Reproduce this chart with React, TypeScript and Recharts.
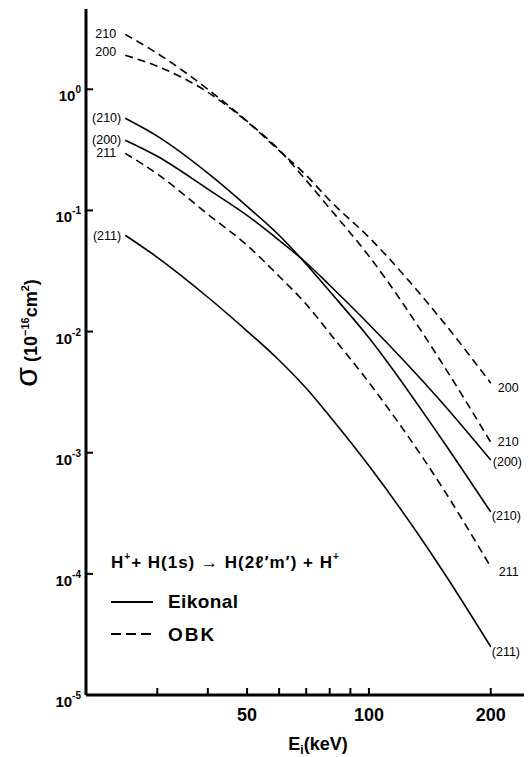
import React from 'react';
import { LineChart, Line, XAxis, YAxis } from 'recharts';

// Projectile energy E_i (keV)
const energies = [25, 30, 40, 50, 60, 70, 80, 100, 150, 200];
// OBK (dashed) cross sections, 10^-16 cm^2
const obk210 = [2.84, 1.98, 1.0, 0.545, 0.316, 0.177, 0.104, 0.042, 0.0058, 0.00122];
const obk200 = [1.91, 1.55, 0.945, 0.54, 0.312, 0.195, 0.121, 0.06, 0.0129, 0.00375];
const obk211 = [0.296, 0.2, 0.093, 0.0516, 0.0286, 0.0168, 0.0097, 0.0038, 0.00055, 0.000114];
// Eikonal (solid) cross sections
const eik210 = [0.576, 0.41, 0.203, 0.108, 0.0624, 0.036, 0.0215, 0.0089, 0.00135, 0.000324];
const eik200 = [0.38, 0.28, 0.15, 0.091, 0.0567, 0.037, 0.0241, 0.0115, 0.0027, 0.00087];
const eik211 = [0.0624, 0.041, 0.0192, 0.0101, 0.0058, 0.0034, 0.002, 0.00078, 0.000114, 0.000025];

const xTicks = [30, 40, 50, 60, 70, 80, 90, 100, 200];
const xTickLabels = [50, 100, 200];
const yTicks = [1e-5, 1e-4, 1e-3, 1e-2, 1e-1, 1];
const yExponents = ['-5', '-4', '-3', '-2', '-1', '0'];

const data = energies.map((e, i) => ({
  e,
  obk210: obk210[i],
  obk200: obk200[i],
  obk211: obk211[i],
  eik210: eik210[i],
  eik200: eik200[i],
  eik211: eik211[i],
}));

const FONT = '"Liberation Sans", Arial, Helvetica, sans-serif';

const makeLabel = (
  startText: string,
  endText: string,
  sdx: number,
  sdy: number,
  edx: number,
  edy: number
) => (props: any) => {
  const { x, y, index } = props;
  if (index === 0) {
    return (
      <text x={x + sdx} y={y + sdy + 4} textAnchor="end" fontSize={12.5} fontFamily={FONT} fill="#000">
        {startText}
      </text>
    );
  }
  if (index === energies.length - 1) {
    return (
      <text x={x + edx} y={y + edy + 4} textAnchor="start" fontSize={12.5} fontFamily={FONT} fill="#000">
        {endText}
      </text>
    );
  }
  return null;
};

const YTick = (props: any) => {
  const { x, y, payload } = props;
  const idx = yTicks.findIndex((t) => Math.abs(Math.log10(t) - Math.log10(payload.value)) < 1e-6);
  const exp = idx >= 0 ? yExponents[idx] : '';
  return (
    <text x={x} y={y + 12} textAnchor="end" fontFamily={FONT} fontWeight="bold" fill="#000">
      <tspan fontSize={15}>10</tspan>
      <tspan fontSize={10} dy={-8}>{exp}</tspan>
    </text>
  );
};

const XTick = (props: any) => {
  const { x, y, payload } = props;
  if (!xTickLabels.includes(payload.value)) return <g />;
  return (
    <text x={x} y={y + 19} textAnchor="middle" fontFamily={FONT} fontWeight="bold" fontSize={18} fill="#000">
      {payload.value}
    </text>
  );
};

const Overlay = () => (
  <svg
    width={532}
    height={757}
    style={{ position: 'absolute', left: 0, top: 0, pointerEvents: 'none' }}
  >
    {/* Y axis title */}
    <text
      x={37}
      y={333}
      transform="rotate(-90 37 333)"
      textAnchor="middle"
      fontFamily={FONT}
      fontWeight="bold"
      fill="#000"
    >
      <tspan fontSize={32} fontWeight="normal">σ</tspan>
      <tspan fontSize={18}> (10</tspan>
      <tspan fontSize={11} dy={-8}>−16</tspan>
      <tspan fontSize={18} dy={8}>cm</tspan>
      <tspan fontSize={11} dy={-8}>2</tspan>
      <tspan fontSize={18} dy={8}>)</tspan>
    </text>
    {/* X axis title */}
    <text x={318} y={750} textAnchor="middle" fontFamily={FONT} fontWeight="bold" fill="#000">
      <tspan fontSize={18}>E</tspan>
      <tspan fontSize={12} dy={4}>i</tspan>
      <tspan fontSize={18} dy={-4}>(keV)</tspan>
    </text>
    {/* Legend */}
    <text x={111} y={568} fontFamily={FONT} fontWeight="bold" fill="#000" letterSpacing={1}>
      <tspan fontSize={17}>H</tspan>
      <tspan fontSize={10} dy={-8}>+</tspan>
      <tspan fontSize={17} dy={8}>+ H(1s) → H(2ℓ′m′) + H</tspan>
      <tspan fontSize={10} dy={-8}>+</tspan>
    </text>
    <line x1={111} y1={602} x2={153} y2={602} stroke="#000" strokeWidth={1.8} />
    <text x={168} y={608} fontFamily={FONT} fontWeight="bold" fontSize={19} fill="#000" letterSpacing={0.4}>
      Eikonal
    </text>
    <line x1={111} y1={634} x2={153} y2={634} stroke="#000" strokeWidth={1.8} strokeDasharray="10 5" />
    <text x={168} y={641} fontFamily={FONT} fontWeight="bold" fontSize={19} fill="#000" letterSpacing={2}>
      OBK
    </text>
  </svg>
);

export default function App() {
  return (
    <div style={{ position: 'relative', width: 532, height: 757, margin: '-8px 0 0 -8px', background: '#fff' }}>
      <LineChart
        width={532}
        height={757}
        data={data}
        margin={{ top: 9, right: 2, bottom: 22, left: 26 }}
      >
        <XAxis
          xAxisId="b"
          dataKey="e"
          type="number"
          scale="log"
          domain={[20, 250]}
          allowDataOverflow
          ticks={xTicks}
          interval={0}
          height={40}
          tickSize={-7}
          tickMargin={14}
          tickLine={{ stroke: '#000', strokeWidth: 2 }}
          axisLine={{ stroke: '#000', strokeWidth: 3 }}
          tick={<XTick />}
        />
        <XAxis
          xAxisId="t"
          dataKey="e"
          type="number"
          scale="log"
          domain={[20, 250]}
          allowDataOverflow
          orientation="top"
          ticks={xTicks}
          interval={0}
          height={0}
          tickSize={-7}
          tickLine={{ stroke: '#000', strokeWidth: 2 }}
          axisLine={{ stroke: '#000', strokeWidth: 3 }}
          tick={false}
        />
        <YAxis
          yAxisId="l"
          type="number"
          scale="log"
          domain={[1e-5, 4.6]}
          allowDataOverflow
          ticks={yTicks}
          interval={0}
          width={60}
          tickSize={-7}
          tickMargin={12}
          tickLine={{ stroke: '#000', strokeWidth: 2 }}
          axisLine={{ stroke: '#000', strokeWidth: 3 }}
          tick={<YTick />}
        />
        <YAxis
          yAxisId="r"
          orientation="right"
          type="number"
          scale="log"
          domain={[1e-5, 4.6]}
          allowDataOverflow
          ticks={yTicks}
          interval={0}
          width={0}
          tickSize={-6}
          tickLine={{ stroke: '#000', strokeWidth: 1.5 }}
          axisLine={{ stroke: '#000', strokeWidth: 2 }}
          tick={false}
        />
        <Line xAxisId="b" yAxisId="l" dataKey="obk210" type="monotone" stroke="#000" strokeWidth={1.6} strokeDasharray="8 5" dot={false} isAnimationActive={false} label={makeLabel('210', '210', -9, 0, 7, 0)} />
        <Line xAxisId="b" yAxisId="l" dataKey="obk200" type="monotone" stroke="#000" strokeWidth={1.6} strokeDasharray="8 5" dot={false} isAnimationActive={false} label={makeLabel('200', '200', -9, -3, 7, 5)} />
        <Line xAxisId="b" yAxisId="l" dataKey="obk211" type="monotone" stroke="#000" strokeWidth={1.6} strokeDasharray="8 5" dot={false} isAnimationActive={false} label={makeLabel('211', '211', -9, 0, 8, 5)} />
        <Line xAxisId="b" yAxisId="l" dataKey="eik210" type="monotone" stroke="#000" strokeWidth={1.6} dot={false} isAnimationActive={false} label={makeLabel('(210)', '(210)', -4, 0, 1, 4)} />
        <Line xAxisId="b" yAxisId="l" dataKey="eik200" type="monotone" stroke="#000" strokeWidth={1.6} dot={false} isAnimationActive={false} label={makeLabel('(200)', '(200)', -4, 0, 2, 2)} />
        <Line xAxisId="b" yAxisId="l" dataKey="eik211" type="monotone" stroke="#000" strokeWidth={1.6} dot={false} isAnimationActive={false} label={makeLabel('(211)', '(211)', -4, 1, 1, 5)} />
      </LineChart>
      <Overlay />
    </div>
  );
}
